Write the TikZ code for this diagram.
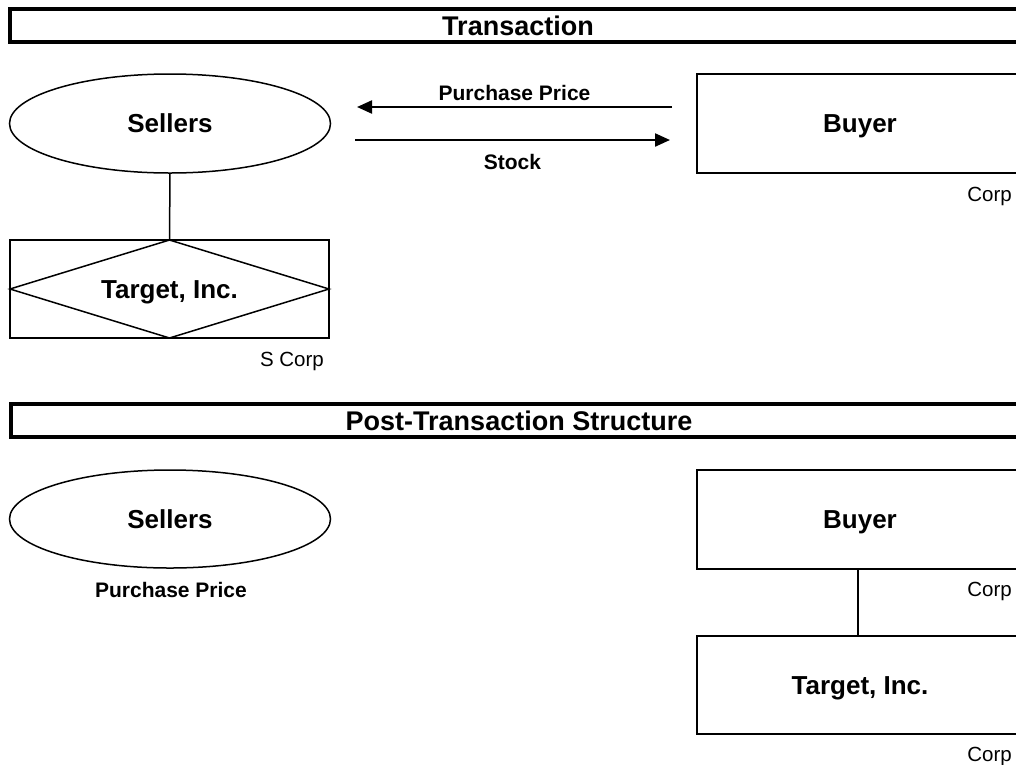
\documentclass[tikz,border=0pt]{standalone}
\usepackage{fontspec}
\setmainfont{Liberation Sans}
\usetikzlibrary{shapes.geometric,arrows.meta,calc}
\begin{document}
\begin{tikzpicture}[x=1pt,y=-1pt,
  box/.style={draw,line width=1.5pt,rectangle,inner sep=0pt,outer sep=0pt,text height=18.6pt,text depth=0pt,font=\fontsize{26}{30}\selectfont\bfseries},
  oval/.style={box,ellipse},
  titlebar/.style={draw,line width=3.2pt,inner sep=0pt,outer sep=0pt,minimum width=1016pt,minimum height=33pt,text height=19.3pt,text depth=0pt,font=\fontsize{27}{32}\selectfont\bfseries},
  lbl/.style={inner sep=0pt,font=\fontsize{21}{25}\selectfont\bfseries},
  note/.style={inner sep=0pt,font=\fontsize{20.5}{24}\selectfont},
  flow/.style={line width=2.2pt,-{Triangle[length=15pt,width=13pt]}},
  link/.style={line width=1.5pt}]
\useasboundingbox (0,0) rectangle (1016,764);
\clip (0,0) rectangle (1016,764);

% ---- Transaction ----
\node[titlebar] (title1) at (518,25.5) {Transaction};

\node[oval,minimum width=321pt,minimum height=99pt] (sellers1) at (170,123.5) {Sellers};
\node[box,minimum width=326pt,minimum height=99pt] (buyer1) at (860,123.5) {Buyer};
\node[note,anchor=base east] (corp1) at (1012,201) {Corp};

\node[box,minimum width=319pt,minimum height=98pt] (target1) at (169.5,289) {Target, Inc.};
\draw[link] (target1.north) -- (target1.east) -- (target1.south) -- (target1.west) -- cycle;
\node[note,anchor=base east] (scorp) at (324,366) {S Corp};
\draw[link] (sellers1.south) -- (target1.north);

\coordinate (ppR) at (672,107);
\coordinate (ppL) at (357,107);
\coordinate (stL) at (355,140);
\coordinate (stR) at (670,140);
\draw[flow] (ppR) -- node[lbl,above=5pt] {Purchase Price} (ppL);
\draw[flow] (stL) -- node[lbl,below=13pt] {Stock} (stR);

% ---- Post-Transaction Structure ----
\node[titlebar] (title2) at (519,420.5) {Post-Transaction Structure};

\node[oval,minimum width=321pt,minimum height=98pt] (sellers2) at (170,519) {Sellers};
\node[lbl,anchor=base] (pp2) at (171,597) {Purchase Price};

\node[box,minimum width=326pt,minimum height=99pt] (buyer2) at (860,519.5) {Buyer};
\node[note,anchor=base east] (corp2) at (1012,596) {Corp};
\node[box,minimum width=326pt,minimum height=98pt] (target2) at (860,685) {Target, Inc.};
\node[note,anchor=base east] (corp3) at (1012,761) {Corp};
\draw[link] ($(buyer2.south)+(-2,0)$) -- ($(target2.north)+(-2,0)$);
\end{tikzpicture}
\end{document}
